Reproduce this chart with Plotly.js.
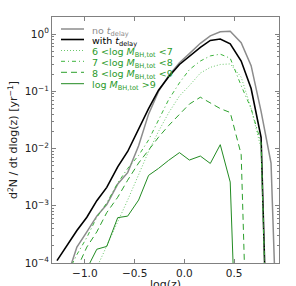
<!DOCTYPE html>
<html>
<head>
<meta charset="utf-8">
<script src="https://cdn.plot.ly/plotly-3.0.1.min.js"></script>
<style>html,body{margin:0;padding:0;background:#fff;overflow:hidden;}#chart{width:296px;height:286px;}</style>
</head>
<body>
<div id="chart"></div>
<script>
// log(z) grid
var logz = [-1.28, -1.18, -1.08, -0.98, -0.88, -0.78, -0.67, -0.57, -0.46, -0.36, -0.26, -0.16, -0.05, 0.05, 0.16, 0.26, 0.36, 0.46, 0.57, 0.67, 0.77, 0.87, 0.98];

// d2N/dt dlog(z) [yr^-1]
var noDelay   = [null, 5.6e-5, 1.9e-4, 3.5e-4, 6.6e-4, 1.05e-3, 2.4e-3, 3.8e-3, 0.0112, 0.040, 0.100, 0.186, 0.316, 0.457, 0.692, 0.933, 1.10, 1.12, 0.708, 0.282, 0.0447, 5.6e-3, 1e-8];
var withDelay = [1.1e-4, 2.0e-4, 3.7e-4, 6.3e-4, 1.23e-3, 2.1e-3, 4.8e-3, 8.9e-3, 0.0219, 0.050, 0.105, 0.178, 0.295, 0.417, 0.589, 0.776, 0.822, 0.676, 0.339, 0.112, 0.0158, 1e-8, null];
var m6to7     = [null, null, null, null, 8.3e-5, 2.0e-4, 5.0e-4, 1.26e-3, 3.5e-3, 8.9e-3, 0.020, 0.0417, 0.083, 0.126, 0.209, 0.263, 0.295, 0.302, 0.178, 0.050, 0.010, 1e-8, null];
var m7to8     = [null, 6.3e-5, 1.4e-4, 2.8e-4, 6.3e-4, 1.12e-3, 2.5e-3, 4.5e-3, 7.6e-3, 0.0141, 0.0316, 0.0708, 0.141, 0.240, 0.339, 0.417, 0.447, 0.380, 0.126, 0.050, 0.0126, 1e-8, null];
var m8to9     = [null, null, 7.9e-5, 1.9e-4, 3.5e-4, 7.6e-4, 1.41e-3, 2.8e-3, 5.6e-3, 9.5e-3, 0.0158, 0.0251, 0.0398, 0.060, 0.079, 0.063, 0.050, 0.0427, 7.9e-3, 1e-8, null, null, null];
var mAbove9   = [null, null, null, 7.9e-5, 1.74e-4, 1.95e-4, 6.2e-4, 6.6e-4, 1.26e-3, 3.4e-3, 4.5e-3, 6.2e-3, 8.5e-3, 6.3e-3, 7.4e-3, 5.5e-3, 0.0117, 2.6e-3, 1e-8, null, null, null, null];

var seriesNames = [
  'no <i>t</i><sub>delay</sub>',
  'with <i>t</i><sub>delay</sub>',
  '6 &lt;log <i>M</i><sub>BH,tot</sub> &lt;7',
  '7 &lt;log <i>M</i><sub>BH,tot</sub> &lt;8',
  '8 &lt;log <i>M</i><sub>BH,tot</sub> &lt;9',
  'log <i>M</i><sub>BH,tot</sub> &gt;9'
];
var nameColors = ['#8c8c8c', '#000000', '#2a9a2a', '#2a9a2a', '#2a9a2a', '#2a9a2a'];
var yTickVals = [1e-4, 1e-3, 1e-2, 1e-1, 1];
var yTickText = ['10<sup>−4</sup>', '10<sup>−3</sup>', '10<sup>−2</sup>', '10<sup>−1</sup>', '10<sup>0</sup>'];
var xTitle = 'log(z)';
var yTitle = 'd<sup>2</sup>N / dt dlog(z) [yr<sup>−1</sup>]';

var styles = [
  {color: '#8c8c8c', width: 1.5, dash: 'solid'},
  {color: '#000000', width: 1.6, dash: 'solid'},
  {color: '#6cc86c', width: 1, dash: '1px,2px'},
  {color: '#3cb43c', width: 1, dash: '4px,3px,1px,3px'},
  {color: '#2ca02c', width: 1, dash: '6px,4px'},
  {color: '#228b22', width: 1, dash: 'solid'}
];
var ys = [noDelay, withDelay, m6to7, m7to8, m8to9, mAbove9];

var traces = ys.map(function (y, i) {
  return {x: logz, y: y, type: 'scatter', mode: 'lines', name: seriesNames[i],
          line: styles[i], connectgaps: false, hoverinfo: 'skip', showlegend: false};
});

// hand-placed legend (upper left, no frame), positions in pixels of the page
var W = 296, H = 286, M = {l: 52, r: 17, t: 17, b: 23};
var pw = W - M.l - M.r, ph = H - M.t - M.b;
function px2x(px) { return (px - M.l) / pw; }
function py2y(py) { return 1 - (py - M.t) / ph; }
var legLineY = [29, 39.5, 50.5, 61.3, 72.3, 83.7];
var shapes = [], annotations = [];
for (var i = 0; i < ys.length; i++) {
  shapes.push({type: 'line', xref: 'paper', yref: 'paper',
    x0: px2x(61), x1: px2x(84), y0: py2y(legLineY[i]), y1: py2y(legLineY[i]),
    line: {color: styles[i].color, width: styles[i].width, dash: styles[i].dash}});
  annotations.push({xref: 'paper', yref: 'paper', x: px2x(90), y: py2y(legLineY[i] + 2.2),
    xanchor: 'left', yanchor: 'middle', showarrow: false, text: seriesNames[i],
    font: {family: 'DejaVu Sans', size: 9.5, color: nameColors[i]}});
}
// x-axis title, sitting low as in the reference (partly cut by the page edge)
annotations.push({xref: 'paper', yref: 'paper', x: 0.5, y: py2y(284.5), xanchor: 'center', yanchor: 'middle',
  showarrow: false, text: xTitle, font: {family: 'DejaVu Sans', size: 11, color: '#222'}});

var axisCommon = {
  showline: true, linecolor: '#808080', linewidth: 1, mirror: 'allticks',
  ticks: 'inside', tickcolor: '#808080', ticklen: 4, tickwidth: 1,
  showgrid: false, zeroline: false,
  tickfont: {family: 'DejaVu Sans', size: 10.5, color: '#222'}
};

var layout = {
  width: W, height: H,
  margin: M,
  paper_bgcolor: '#fff', plot_bgcolor: '#fff',
  showlegend: false,
  shapes: shapes, annotations: annotations,
  xaxis: Object.assign({}, axisCommon, {
    range: [-1.33, 0.95], tickmode: 'linear', tick0: 0, dtick: 0.5, tickformat: '.1f'
  }),
  yaxis: Object.assign({}, axisCommon, {
    type: 'log', range: [-4, 0.3], tickmode: 'array', tickvals: yTickVals, ticktext: yTickText,
    minor: {ticks: 'inside', ticklen: 2, tickcolor: '#808080', dtick: 'D1', showgrid: false},
    title: {text: yTitle, font: {family: 'DejaVu Sans', size: 11, color: '#222'}, standoff: 4}
  })
};

Plotly.newPlot('chart', traces, layout, {displayModeBar: false, staticPlot: true});
</script>
</body>
</html>
